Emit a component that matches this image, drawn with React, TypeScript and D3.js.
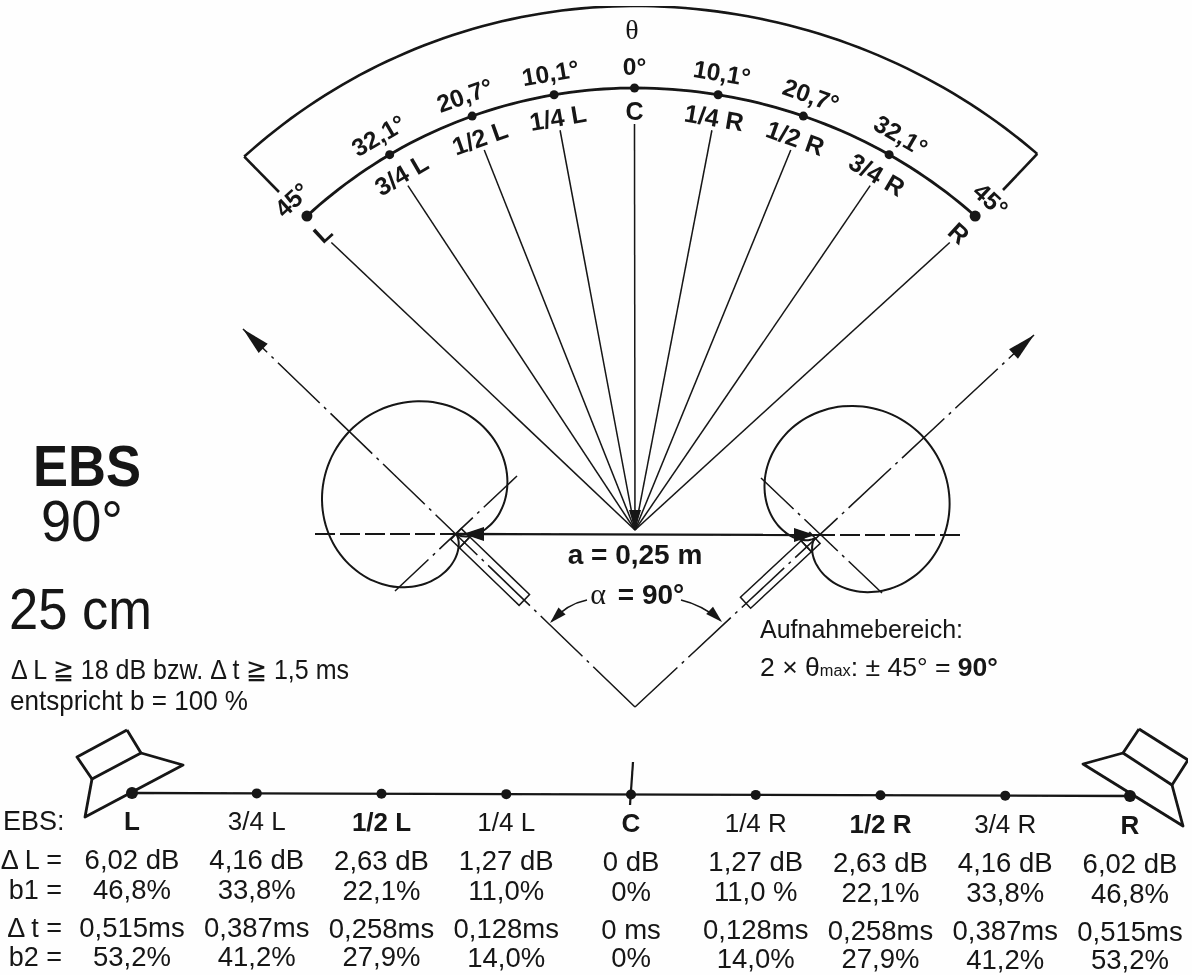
import React from "react";
import * as d3 from "d3";

// ---- data ----
const thetaValues = [-45, -32.1, -20.7, -10.1, 0, 10.1, 20.7, 32.1, 45];
const thetaLabels = ["45°", "32,1°", "20,7°", "10,1°", "0°", "10,1°", "20,7°", "32,1°", "45°"];
const arcPositions = ["L", "3/4 L", "1/2 L", "1/4 L", "C", "1/4 R", "1/2 R", "3/4 R", "R"];
const baseLabels = ["L", "3/4 L", "1/2 L", "1/4 L", "C", "1/4 R", "1/2 R", "3/4 R", "R"];
const boldBase = ["L", "1/2 L", "C", "1/2 R", "R"];
const deltaL = ["6,02 dB", "4,16 dB", "2,63 dB", "1,27 dB", "0 dB", "1,27 dB", "2,63 dB", "4,16 dB", "6,02 dB"];
const b1 = ["46,8%", "33,8%", "22,1%", "11,0%", "0%", "11,0 %", "22,1%", "33,8%", "46,8%"];
const deltaT = ["0,515ms", "0,387ms", "0,258ms", "0,128ms", "0 ms", "0,128ms", "0,258ms", "0,387ms", "0,515ms"];
const b2 = ["53,2%", "41,2%", "27,9%", "14,0%", "0%", "14,0%", "27,9%", "41,2%", "53,2%"];
const rowHeads = ["EBS:", "Δ L =", "b1 =", "Δ t =", "b2 ="];

const INK = "#141414";
const SANS = "'Liberation Sans', Arial, sans-serif";
const SERIF = "'Liberation Serif', serif";
const rad = Math.PI / 180;

const cx = 634.5;
const arcScale = d3.scaleLinear().domain([-45, 45]).range([-42.7, 42.7]);
const stretch = (dx: number) => (dx > 0 ? dx * 1.04 : dx);
const polar = (deg: number, r: number, cy = 571) => [
  cx + stretch(r * Math.sin(deg * rad)),
  cy - r * Math.cos(deg * rad),
];

const baseX = d3.scalePoint<string>().domain(baseLabels).range([132, 1130]);
const baseY = d3.scaleLinear().domain([132, 1130]).range([793, 796]);
const rowTilt = d3.scaleLinear().domain([132, 1130]).range([0, 3.5]);
const line = d3.line();

function arrow(tip: number[], from: number[], len = 20, half = 5.5) {
  const a = Math.atan2(from[1] - tip[1], from[0] - tip[0]);
  const bx = tip[0] + len * Math.cos(a), by = tip[1] + len * Math.sin(a);
  const nx = -Math.sin(a) * half, ny = Math.cos(a) * half;
  return `M${tip[0]},${tip[1]}L${bx + nx},${by + ny}L${bx - nx},${by - ny}Z`;
}

function Cardioid({ mic, axis }: { mic: number[]; axis: number }) {
  const R = 148;
  const gen = d3.lineRadial<number>()
    .angle((a) => a * rad)
    .radius((a) => (R * (1 + Math.cos((a - axis) * rad))) / 2)
    .curve(d3.curveCardinalClosed);
  return (
    <path d={gen(d3.range(0, 360, 4)) || ""} transform={`translate(${mic[0]},${mic[1]})`}
      fill="none" stroke={INK} strokeWidth={2} />
  );
}

function Mic({ mic, rot }: { mic: number[]; rot: number }) {
  return (
    <g transform={`translate(${mic[0]},${mic[1]}) rotate(${rot})`} fill="none" stroke={INK} strokeWidth={1.5}>
      <rect x={0} y={-7.5} width={12} height={15} />
      <rect x={12} y={-7.5} width={83} height={15} />
    </g>
  );
}

function T({ x, y, s, size = 25, w = 400, fam = SANS, anchor = "middle", rot = 0, len, dy, ...rest }: any) {
  return (
    <text x={x} y={y} fontSize={size} fontWeight={w} fontFamily={fam} textAnchor={anchor} fill={INK}
      dominantBaseline={dy} textLength={len} lengthAdjust={len ? "spacingAndGlyphs" : undefined}
      transform={rot ? `rotate(${rot} ${x} ${y})` : undefined} {...rest}>
      {s}
    </text>
  );
}

export default function App() {
  const rayOrigin = [635, 530];
  const micL = [456, 534];
  const micR = [815, 538];
  const inner = d3.range(-42.7, 42.71, 1).map((a) => polar(a, 483) as [number, number]);
  const outer = d3.range(-42.2, 42.21, 1).map((a) => polar(a, 581, 587) as [number, number]);
  const rowYs = [869, 899, 937, 965.5];
  const rows: [string[], number][] = [[deltaL, rowYs[0]], [b1, rowYs[1]], [deltaT, rowYs[2]], [b2, rowYs[3]]];
  return (
    <svg width={1192} height={975} style={{ position: "absolute", left: 0, top: 0, background: "#fefefe" }}>
      <defs>
        <filter id="scan" x="0" y="0" width="100%" height="100%">
          <feGaussianBlur stdDeviation="0.5" />
        </filter>
      </defs>
      <g filter="url(#scan)">
        {/* outer sector */}
        <path d={line(outer) || ""} fill="none" stroke={INK} strokeWidth={2.6} />
        <path d={line([outer[0], [279, 192]]) || ""} stroke={INK} strokeWidth={2.6} />
        <path d={line([outer[outer.length - 1], [1003, 190]]) || ""} stroke={INK} strokeWidth={2.6} />
        <path d={line(inner) || ""} fill="none" stroke={INK} strokeWidth={2.8} />
        <T x={632} y={39} s="θ" size={28} fam={SERIF} />

        {thetaValues.map((v, i) => {
          const a = arcScale(v);
          const p = polar(a, 483);
          const q = polar(a, 447);
          const l1 = polar(a, 505);
          const l2 = polar(a, 460);
          return (
            <g key={i}>
              <path d={line([rayOrigin as any, q as any]) || ""} stroke={INK} strokeWidth={1.5} />
              <circle cx={p[0]} cy={p[1]} r={i === 0 || i === 8 ? 5.5 : 4.5} fill={INK} />
              <T x={l1[0]} y={l1[1]} s={thetaLabels[i]} size={24.5} w={700} rot={a} dy="central" />
              <T x={l2[0]} y={l2[1]} s={arcPositions[i]} size={25} w={700} rot={a} dy="central" />
            </g>
          );
        })}
        <path d={arrow(rayOrigin, [635, 510], 20, 6)} fill={INK} />

        {/* axes */}
        <path d={line([[635, 707], [243, 329]]) || ""} stroke={INK} strokeWidth={1.5} fill="none" strokeDasharray="58 6 3 6" />
        <path d={line([[635, 707], [1034, 335]]) || ""} stroke={INK} strokeWidth={1.5} fill="none" strokeDasharray="58 6 3 6" />
        <path d={arrow([243, 329], [635, 707], 28, 6.5)} fill={INK} />
        <path d={arrow([1034, 335], [635, 707], 28, 6.5)} fill={INK} />
        <path d={line([[395, 591], [517, 476]]) || ""} stroke={INK} strokeWidth={1.5} strokeDasharray="46 6 3 6" />
        <path d={line([[882, 593], [761, 478]]) || ""} stroke={INK} strokeWidth={1.5} strokeDasharray="46 6 3 6" />

        <Cardioid mic={micL} axis={-46} />
        <Cardioid mic={micR} axis={47} />
        <Mic mic={micL} rot={44} />
        <Mic mic={micR} rot={137} />

        {/* distance line */}
        <path d={line([[315, 534], [456, 534]]) || ""} stroke={INK} strokeWidth={2} strokeDasharray="20 5" />
        <path d={line([[456, 534], [815, 535]]) || ""} stroke={INK} strokeWidth={2.4} />
        <path d={line([[815, 535], [960, 535]]) || ""} stroke={INK} strokeWidth={2} strokeDasharray="20 5" />
        <path d={arrow([463, 534], [490, 534], 21, 7)} fill={INK} />
        <path d={arrow([815, 535], [790, 535], 21, 7)} fill={INK} />
        <T x={635} y={564} s="a = 0,25 m" size={28} w={700} />

        {/* alpha */}
        <T x={598} y={604} s="α" size={30} fam={SERIF} />
        <T x={651} y={604} s="= 90°" size={28} w={700} />
        <path d="M587,600Q567,604 552,621" fill="none" stroke={INK} strokeWidth={1.6} />
        <path d={arrow([550, 623], [565, 608], 17, 5)} fill={INK} />
        <path d="M681,600Q702,605 720,620" fill="none" stroke={INK} strokeWidth={1.6} />
        <path d={arrow([722, 622], [706, 607], 17, 5)} fill={INK} />

        {/* left titles */}
        <T x={33} y={486} s="EBS" size={58} w={700} anchor="start" len={108} />
        <T x={41} y={541} s="90°" size={58} anchor="start" len={82} />
        <T x={9} y={629} s="25 cm" size={58} anchor="start" len={143} />
        <T x={11} y={679} s="Δ L ≧ 18 dB bzw. Δ t ≧ 1,5 ms" size={28} anchor="start" len={338} />
        <T x={10} y={710} s="entspricht b = 100 %" size={28} anchor="start" len={238} />
        <T x={760} y={638} s="Aufnahmebereich:" size={25} anchor="start" len={203} />
        <text x={760} y={676} fontSize={26} fontFamily={SANS} fill={INK} textLength={238} lengthAdjust="spacingAndGlyphs">
          2 × θ<tspan fontSize={16}>max</tspan>: ± 45° = <tspan fontWeight={700}>90°</tspan>
        </text>

        {/* speakers */}
        <g fill="none" stroke={INK} strokeWidth={2.8} strokeLinejoin="round">
          <path d={line([[127, 730], [77, 757], [92, 779], [141, 753], [127, 730]]) || ""} />
          <path d={line([[141, 753], [183, 765], [85, 817], [92, 779]]) || ""} />
          <path d={line([[1139, 729], [1188, 760], [1172, 785], [1123, 753], [1139, 729]]) || ""} />
          <path d={line([[1123, 753], [1083, 764], [1183, 826], [1172, 785]]) || ""} />
        </g>

        {/* baseline */}
        <path d={line([[132, 793], [1130, 796]]) || ""} stroke={INK} strokeWidth={2.4} />
        <path d={line([[633, 762], [630, 805]]) || ""} stroke={INK} strokeWidth={2.2} />
        {baseLabels.map((l) => {
          const x = baseX(l)!;
          return (
            <g key={l}>
              <circle cx={x} cy={baseY(x)} r={l === "L" || l === "R" ? 6 : 5} fill={INK} />
              <T x={x} y={830 + rowTilt(x)} s={l} size={26} w={boldBase.includes(l) ? 700 : 400} />
            </g>
          );
        })}

        {/* table */}
        {rows.map(([vals, y]) =>
          vals.map((v, i) => {
            const x = baseX(baseLabels[i])!;
            return <T key={`${y}-${i}`} x={x} y={y + rowTilt(x)} s={v} size={27.5} />;
          })
        )}
        {rowHeads.map((h, i) => (
          <T key={h} x={i === 0 ? 3 : 62} y={[830, ...rowYs][i]} s={h} size={27} anchor={i === 0 ? "start" : "end"} />
        ))}
      </g>
    </svg>
  );
}
